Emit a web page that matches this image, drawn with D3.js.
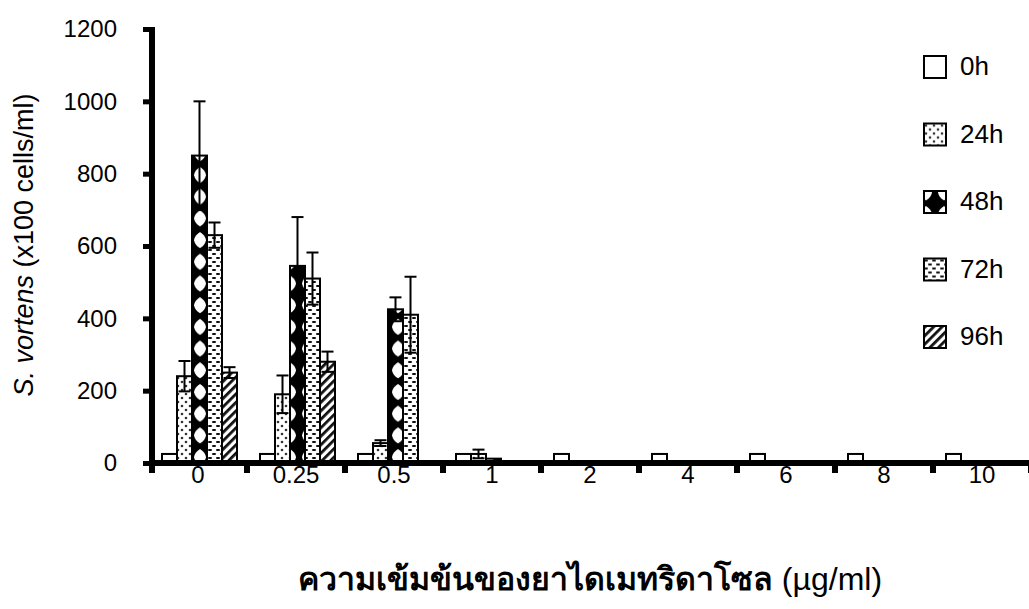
<!DOCTYPE html>
<html>
<head>
<meta charset="utf-8">
<script src="https://cdn.jsdelivr.net/npm/d3@7"></script>
<style>
  html, body { margin: 0; padding: 0; background: #fff; }
  svg { display: block; font-family: "Liberation Sans", Arial, "Noto Sans", "DejaVu Sans", sans-serif; }
</style>
</head>
<body>
<svg id="chart" width="1029" height="609"></svg>
<script>
// Dimetridazole concentrations (µg/ml)
const concentrations = ["0", "0.25", "0.5", "1", "2", "4", "6", "8", "10"];
// Sampling times
const series = ["0h", "24h", "48h", "72h", "96h"];

// Mean cell counts (x100 cells/ml) per time point
const values0h  = [25, 25, 25, 25, 25, 25, 25, 25, 25];
const values24h = [240, 190, 55, 25, 0, 5, 0, 0, 0];
const values48h = [850, 545, 425, 12, 0, 0, 0, 0, 0];
const values72h = [630, 510, 410, 3, 0, 0, 0, 0, 0];
const values96h = [250, 280, 0, 0, 0, 0, 0, 0, 0];

// Standard deviations
const err0h  = [0, 0, 0, 0, 0, 0, 0, 0, 0];
const err24h = [42, 52, 8, 12, 0, 0, 0, 0, 0];
const err48h = [150, 135, 33, 0, 0, 0, 0, 0, 0];
const err72h = [35, 72, 105, 0, 0, 0, 0, 0, 0];
const err96h = [15, 28, 0, 0, 0, 0, 0, 0, 0];

const yTicks = [0, 200, 400, 600, 800, 1000, 1200];

const allValues = [values0h, values24h, values48h, values72h, values96h];
const allErrors = [err0h, err24h, err48h, err72h, err96h];
const fills = ["#fff", "url(#p24)", "url(#p48)", "url(#p72)", "url(#p96)"];

const rows = [];
series.forEach((s, si) => {
  concentrations.forEach((c, ci) => {
    rows.push({ series: s, si, conc: c, value: allValues[si][ci], err: allErrors[si][ci] });
  });
});

const svg = d3.select("#chart");

// ---- fill patterns ----
const defs = svg.append("defs");

// 24h: sparse dots
const p24 = defs.append("pattern").attr("id", "p24")
  .attr("patternUnits", "userSpaceOnUse").attr("width", 8).attr("height", 8);
p24.append("rect").attr("width", 8).attr("height", 8).attr("fill", "#fff");
p24.append("circle").attr("cx", 2).attr("cy", 2).attr("r", 1.3).attr("fill", "#333");
p24.append("circle").attr("cx", 6).attr("cy", 6).attr("r", 1.3).attr("fill", "#333");

// 48h: black with white rounded diamonds
const p48 = defs.append("pattern").attr("id", "p48")
  .attr("patternUnits", "userSpaceOnUse").attr("x", 191).attr("y", 164)
  .attr("width", 18).attr("height", 21.7);
p48.append("rect").attr("width", 18).attr("height", 21.7).attr("fill", "#000");
p48.append("path")
  .attr("d", "M9,3 Q14,6 15,11 Q14,16 9,19 Q4,16 3,11 Q4,6 9,3 Z")
  .attr("fill", "#fff");

// 72h: staggered short dashes
const p72 = defs.append("pattern").attr("id", "p72")
  .attr("patternUnits", "userSpaceOnUse").attr("width", 8).attr("height", 8);
p72.append("rect").attr("width", 8).attr("height", 8).attr("fill", "#fff");
p72.append("rect").attr("x", 0).attr("y", 1).attr("width", 4).attr("height", 2).attr("rx", 1).attr("fill", "#111");
p72.append("rect").attr("x", 4).attr("y", 5).attr("width", 4).attr("height", 2).attr("rx", 1).attr("fill", "#111");

// 96h: diagonal stripes
const p96 = defs.append("pattern").attr("id", "p96")
  .attr("patternUnits", "userSpaceOnUse").attr("width", 6).attr("height", 6)
  .attr("patternTransform", "rotate(45)");
p96.append("rect").attr("width", 6).attr("height", 6).attr("fill", "#fff");
p96.append("rect").attr("width", 2.8).attr("height", 6).attr("fill", "#111");

// ---- scales ----
const x0 = d3.scaleBand().domain(concentrations).range([149, 1031]).padding(0);
const x1 = d3.scaleBand().domain(series).range([13, 88]).padding(0);
const y = d3.scaleLinear().domain([0, 1200]).range([463, 29]);

// ---- bars ----
const bars = svg.append("g");
bars.selectAll("rect")
  .data(rows.filter(d => d.value > 0))
  .join("rect")
  .attr("x", d => x0(d.conc) + x1(d.series))
  .attr("y", d => y(d.value))
  .attr("width", x1.bandwidth())
  .attr("height", d => y(0) - y(d.value))
  .attr("fill", d => fills[d.si])
  .attr("stroke", "#000")
  .attr("stroke-width", 2);

// ---- error bars ----
const eb = svg.append("g").attr("stroke", "#000").attr("stroke-width", 2);
const withErr = rows.filter(d => d.err > 0);
const cx = d => x0(d.conc) + x1(d.series) + x1.bandwidth() / 2;
eb.selectAll("line.v").data(withErr).join("line").attr("class", "v")
  .attr("x1", cx).attr("x2", cx)
  .attr("y1", d => y(d.value - d.err)).attr("y2", d => y(d.value + d.err));
eb.selectAll("line.t").data(withErr).join("line").attr("class", "t")
  .attr("x1", d => cx(d) - 6).attr("x2", d => cx(d) + 6)
  .attr("y1", d => y(d.value + d.err)).attr("y2", d => y(d.value + d.err));
eb.selectAll("line.b").data(withErr).join("line").attr("class", "b")
  .attr("x1", d => cx(d) - 6).attr("x2", d => cx(d) + 6)
  .attr("y1", d => y(d.value - d.err)).attr("y2", d => y(d.value - d.err));

// ---- y axis ----
const yAxis = svg.append("g").attr("transform", "translate(152,0)")
  .call(d3.axisLeft(y).tickValues(yTicks).tickSize(9).tickPadding(26).tickFormat(d3.format("d")));
yAxis.select(".domain").attr("stroke", "#000").attr("stroke-width", 6)
  .attr("d", `M0,${y(1200) - 2}V${y(0) + 10}`);
yAxis.selectAll(".tick line").attr("stroke", "#000").attr("stroke-width", 5);
yAxis.selectAll(".tick text").attr("font-size", 24).attr("fill", "#000")
  .attr("font-family", "'Liberation Sans', Arial, sans-serif");

// ---- x axis ----
const xAxis = svg.append("g").attr("transform", `translate(0,${y(0)})`);
xAxis.append("line").attr("x1", 149).attr("x2", 1031).attr("y1", 0).attr("y2", 0)
  .attr("stroke", "#000").attr("stroke-width", 6);
const boundaries = concentrations.map(c => x0(c)).concat([x0.range()[1]]);
xAxis.selectAll("line.tk").data(boundaries.slice(1)).join("line").attr("class", "tk")
  .attr("x1", d => d).attr("x2", d => d).attr("y1", 0).attr("y2", 10)
  .attr("stroke", "#000").attr("stroke-width", 6);
xAxis.selectAll("text").data(concentrations).join("text")
  .attr("x", d => x0(d) + x0.bandwidth() / 2)
  .attr("y", 20)
  .attr("text-anchor", "middle")
  .attr("font-size", 24)
  .text(d => d);

// ---- axis titles ----
const yTitle = svg.append("text")
  .attr("transform", "translate(33,245) rotate(-90)")
  .attr("text-anchor", "middle")
  .attr("font-size", 27);
yTitle.append("tspan").attr("font-style", "italic").text("S. vortens");
yTitle.append("tspan").text(" (x100 cells/ml)");

const xTitle = svg.append("text")
  .attr("x", 590).attr("y", 590)
  .attr("text-anchor", "middle")
  .attr("font-size", 32);
xTitle.append("tspan").attr("font-weight", "bold").text("ความเข้มข้นของยาไดเมทริดาโซล");
xTitle.append("tspan").text(" (µg/ml)");

// ---- legend ----
const legend = svg.append("g").attr("transform", "translate(924,56)");
const item = legend.selectAll("g").data(series).join("g")
  .attr("transform", (d, i) => `translate(0,${i * 67.5})`);
item.append("rect").attr("width", 22).attr("height", 22)
  .attr("fill", (d, i) => fills[i]).attr("stroke", "#000").attr("stroke-width", 2);
item.append("text").attr("x", 36).attr("y", 19).attr("font-size", 26).text(d => d);
</script>
</body>
</html>
